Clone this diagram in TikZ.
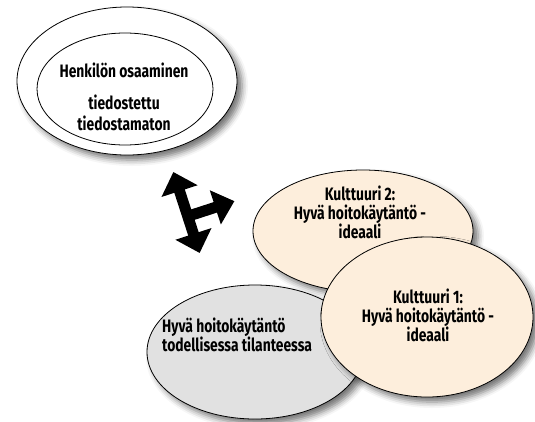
\documentclass[tikz,border=0pt]{standalone}
\usepackage{fontspec}
\setmainfont{Fira Sans}[FakeStretch=0.77]
\usetikzlibrary{shapes.geometric,shadows.blur}
\definecolor{beige}{HTML}{FDEEDC}
\definecolor{stone}{HTML}{E1E1E1}
\tikzset{
  oval/.style={ellipse, draw=black, line width=0.8pt, inner sep=0pt},
  softshadow/.style={blur shadow={shadow xshift=5pt, shadow yshift=-5pt, shadow blur radius=6pt, shadow opacity=55}},
  caption/.style={font=\fontsize{18}{19}\selectfont\bfseries, align=center, inner sep=0pt},
}
\begin{document}
\begin{tikzpicture}[x=1pt,y=-1pt]
\useasboundingbox (0,0) rectangle (535,421);
% personal competence: two nested ovals
\node[oval, fill=white, softshadow, minimum width=220pt, minimum height=148pt] (outer) at (127,81) {};
\node[oval, fill=white, minimum width=176pt, minimum height=112pt] (inner) at (125,89) {};
\node[caption] (henk) at (124,70) {Henkilön osaaminen};
\node[caption, font=\fontsize{18}{21}\selectfont\bfseries] (tied) at (124,113) {tiedostettu\\tiedostamaton};
% culture 2 (back)
\node[oval, fill=beige, softshadow, minimum width=220pt, minimum height=122pt] (k2) at (363,231) {};
\node[caption] (k2t) at (360,212) {Kulttuuri 2:\\Hyvä hoitokäytäntö -\\ideaali};
% real situation
\node[oval, fill=stone, softshadow, minimum width=216pt, minimum height=134pt] (real) at (255,352) {};
\node[caption, align=left, anchor=west] (realt) at (162,335) {Hyvä hoitokäytäntö\\todellisessa tilanteessa};
% culture 1 (front)
\node[oval, fill=beige, softshadow, minimum width=212pt, minimum height=160pt] (k1) at (427,317) {};
\node[caption] (k1t) at (428,315) {Kulttuuri 1:\\Hyvä hoitokäytäntö -\\ideaali};
% three-headed arrow
\begin{scope}[shift={(186.5,212.5)}, x=1pt, y=1pt, rotate=18]
\fill[black] (0,42.5) -- (-19,22.5) -- (-5.5,22.5) -- (-5.5,-22.5) -- (-19,-22.5)
  -- (0,-42.5) -- (19,-22.5) -- (5.5,-22.5) -- (5.5,-9.5) -- (29,-9.5) -- (29,-22)
  -- (49,-4) -- (29,14) -- (29,1.5) -- (5.5,1.5) -- (5.5,22.5) -- (19,22.5) -- cycle;
\end{scope}
\end{tikzpicture}
\end{document}
